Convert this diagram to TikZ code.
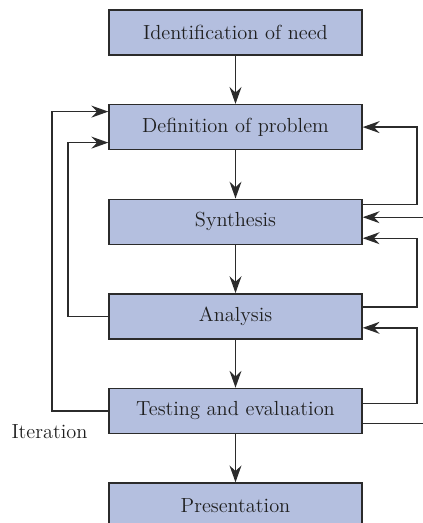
\documentclass[tikz,border=0pt]{standalone}
\usetikzlibrary{arrows.meta, positioning}
\definecolor{boxblue}{HTML}{B4BFDF}
\definecolor{linegray}{HTML}{2B2B2B}

\begin{document}
\begin{tikzpicture}[
        stage/.style={draw=linegray, line width=1pt, fill=boxblue, minimum width=6.325cm,
            minimum height=1.125cm, inner sep=0pt, text=black!88, font=\fontsize{14.5}{17}\selectfont},
        flow/.style={draw=linegray, line width=1pt, -{Stealth[length=12pt, width=8.5pt, inset=4pt]}},
        plain/.style={draw=linegray, line width=1pt},
        node distance=1.205cm
    ]
        \useasboundingbox (0,0) rectangle (10.575,-13.075);
        \clip (0,0) rectangle (10.575,-13.075);
        \node[stage] (ident) at (5.8875,-0.8125) {Identification of need};
        \node[stage, below=of ident] (defn) {Definition of problem};
        \node[stage, below=of defn]  (synth) {Synthesis};
        \node[stage, below=of synth] (anal) {Analysis};
        \node[stage, below=of anal]  (test) {Testing and evaluation};
        \node[stage, below=of test]  (pres) {Presentation};
        \node[text=black!88, font=\fontsize{14.5}{17}\selectfont] (iter) at (1.2375,-10.8) {Iteration};

        \coordinate (lout) at (1.3,0);
        \coordinate (lin) at (1.7,0);
        \coordinate (rout) at (10.425,0);
        \coordinate (edge) at (10.8,0);
        \coordinate (d1) at ([yshift=0.3875cm]defn.west);
        \coordinate (d2) at ([yshift=-0.3875cm]defn.west);
        \coordinate (s0) at ([yshift=0.4375cm]synth.east);
        \coordinate (s1) at ([yshift=0.1125cm]synth.east);
        \coordinate (s2) at ([yshift=-0.4125cm]synth.east);
        \coordinate (a0) at ([yshift=0.2375cm]anal.east);
        \coordinate (a1) at ([yshift=-0.2875cm]anal.east);
        \coordinate (t0) at ([yshift=0.1875cm]test.east);
        \coordinate (t1) at ([yshift=-0.3125cm]test.east);

        \draw[flow] (ident) -- (defn);
        \draw[flow] (defn) -- (synth);
        \draw[flow] (synth) -- (anal);
        \draw[flow] (anal) -- (test);
        \draw[flow] (test) -- (pres);

        \draw[flow] (test.west) -| (d1 -| lout) -- (d1);
        \draw[flow] (anal.west) -| (d2 -| lin) -- (d2);

        \draw[flow] (s0) -| (defn.east -| rout) -- (defn.east);
        \draw[flow] (s1 -| edge) -- (s1);
        \draw[flow] (a0) -| (s2 -| rout) -- (s2);
        \draw[flow] (t0) -| (a1 -| rout) -- (a1);
        \draw[plain] (t1) -- (t1 -| edge);
\end{tikzpicture}
\end{document}
